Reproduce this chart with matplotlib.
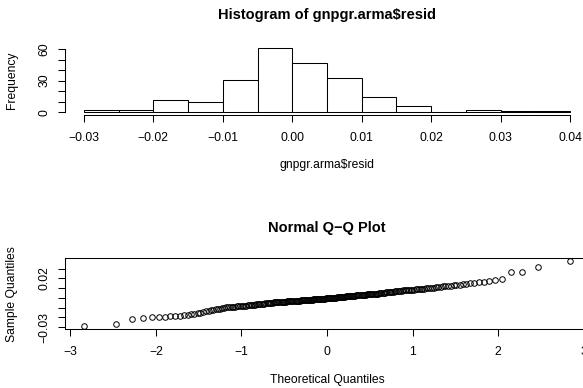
import matplotlib
matplotlib.use('Agg')
import matplotlib.pyplot as plt
from statistics import NormalDist

plt.rcParams['font.family'] = ['Liberation Sans', 'DejaVu Sans']

# ---------------- data ----------------
resid = [
    -0.0293, -0.0271,
    -0.0213, -0.0209,
    -0.0199, -0.0197, -0.0194, -0.0190, -0.0187, -0.0184, -0.0180, -0.0176,
    -0.0171, -0.0166, -0.0160, -0.0153,
    -0.0146, -0.0140, -0.0134, -0.0129, -0.0124, -0.0119, -0.0114, -0.0110,
    -0.0106, -0.0102,
    -0.0098, -0.0096, -0.0095, -0.0093, -0.0092, -0.0090, -0.0088, -0.0087,
    -0.0085, -0.0084, -0.0082, -0.0081, -0.0079, -0.0077, -0.0076, -0.0074,
    -0.0073, -0.0071, -0.0070, -0.0068, -0.0066, -0.0065, -0.0063, -0.0062,
    -0.0060, -0.0059, -0.0057, -0.0055, -0.0054, -0.0052, -0.0051,
    -0.00490, -0.00482, -0.00474, -0.00466, -0.00458, -0.00450, -0.00442,
    -0.00434, -0.00426, -0.00418, -0.00410, -0.00402, -0.00394, -0.00386,
    -0.00378, -0.00370, -0.00362, -0.00354, -0.00346, -0.00338, -0.00330,
    -0.00322, -0.00314, -0.00306, -0.00298, -0.00290, -0.00282, -0.00274,
    -0.00266, -0.00258, -0.00250, -0.00242, -0.00234, -0.00226, -0.00218,
    -0.00210, -0.00202, -0.00194, -0.00186, -0.00178, -0.00170, -0.00162,
    -0.00154, -0.00146, -0.00138, -0.00130, -0.00122, -0.00114, -0.00106,
    -0.00098, -0.00090, -0.00082, -0.00074, -0.00066, -0.00058, -0.00050,
    -0.00042, -0.00034, -0.00026, -0.00018, -0.00010,
    0.0001, 0.0002, 0.0003, 0.0004, 0.0005, 0.0006, 0.0007, 0.0008, 0.0009,
    0.0010, 0.0011, 0.0012, 0.0013, 0.0014, 0.0015, 0.0016, 0.0017, 0.0018,
    0.0019, 0.0020, 0.0021, 0.0022, 0.0023, 0.0024, 0.0025, 0.0026, 0.0027,
    0.0028, 0.0029, 0.0030, 0.0031, 0.0032, 0.0033, 0.0034, 0.0035, 0.0036,
    0.0037, 0.0038, 0.0039, 0.0040, 0.0041, 0.0042, 0.0043, 0.0044, 0.0045,
    0.0047, 0.0049,
    0.0051, 0.0052, 0.0054, 0.0055, 0.0057, 0.0058, 0.0060, 0.0061, 0.0063,
    0.0064, 0.0066, 0.0067, 0.0069, 0.0070, 0.0072, 0.0073, 0.0075, 0.0076,
    0.0078, 0.0079, 0.0081, 0.0082, 0.0084, 0.0085, 0.0087, 0.0088, 0.0090,
    0.0091, 0.0093, 0.0094, 0.0096, 0.0097, 0.0099,
    0.0102, 0.0105, 0.0108, 0.0111, 0.0114, 0.0117, 0.0120, 0.0123, 0.0126,
    0.0129, 0.0132, 0.0135, 0.0139, 0.0143, 0.0147,
    0.0153, 0.0158, 0.0164, 0.0172, 0.0180, 0.0189,
    0.0266, 0.0268,
    0.0312,
    0.0377,
]

breaks = [-0.030, -0.025, -0.020, -0.015, -0.010, -0.005, 0.000,
          0.005, 0.010, 0.015, 0.020, 0.025, 0.030, 0.035, 0.040]
hist_xticks = [-0.03, -0.02, -0.01, 0.00, 0.01, 0.02, 0.03, 0.04]
hist_xticklabels = ['\u22120.03', '\u22120.02', '\u22120.01', '0.00',
                    '0.01', '0.02', '0.03', '0.04']
hist_yticks = [0, 10, 20, 30, 40, 50, 60]
hist_yticklabels = ['0', '', '', '30', '', '', '60']

qq_xticks = [-3, -2, -1, 0, 1, 2, 3]
qq_xticklabels = ['\u22123', '\u22122', '\u22121', '0', '1', '2', '3']
qq_yticks = [-0.03, -0.02, -0.01, 0.00, 0.01, 0.02, 0.03]
qq_yticklabels = ['\u22120.03', '', '', '', '', '0.02', '']

# ---------------- layout helpers ----------------
W, H = 583, 388
fig = plt.figure(figsize=(W / 100, H / 100), dpi=100)


def rect(left, top, right, bottom):
    return [left / W, 1 - bottom / H, (right - left) / W, (bottom - top) / H]


def ftext(x, y, s, **kw):
    fig.text(x / W, 1 - y / H, s, ha='center', va='center', **kw)


FS = 8.7
TFS = 10.5
LW = 0.75
TL = 5.0

# ---------------- histogram ----------------
ax1 = fig.add_axes(rect(64.5, 45.4, 589.5, 114.9))
ax1.hist(resid, bins=breaks, color='white', edgecolor='black', linewidth=LW)
ax1.set_xlim(-0.0328, 0.0428)
ax1.set_ylim(-0.04 * 61, 61 * 1.04)
for s in ['top', 'right']:
    ax1.spines[s].set_visible(False)
ax1.spines['left'].set_bounds(0, 60)
ax1.spines['bottom'].set_bounds(-0.03, 0.04)
for s in ['left', 'bottom']:
    ax1.spines[s].set_linewidth(LW)
ax1.set_xticks(hist_xticks)
ax1.set_xticklabels(hist_xticklabels)
ax1.set_yticks(hist_yticks)
ax1.set_yticklabels(hist_yticklabels, rotation=90, va='center')
ax1.tick_params(axis='x', length=TL, width=LW, labelsize=FS, pad=7.5)
ax1.tick_params(axis='y', length=TL, width=LW, labelsize=FS, pad=5)
ax1.patch.set_visible(False)

ftext(327, 15, 'Histogram of gnpgr.arma$resid', fontsize=TFS, fontweight='bold')
ftext(327, 165, 'gnpgr.arma$resid', fontsize=FS)
ftext(11.7, 80, 'Frequency', fontsize=FS, rotation=90)

# ---------------- normal Q-Q plot ----------------
n = len(resid)
sample = sorted(resid)
nd = NormalDist()
theo = [nd.inv_cdf((i - 0.5) / n) for i in range(1, n + 1)]

ax2 = fig.add_axes(rect(64.5, 258.4, 589.5, 329.0))
ax2.plot(theo, sample, linestyle='none', marker='o', markersize=4.0,
         markerfacecolor='none', markeredgecolor='black', markeredgewidth=0.7)
tr = (max(theo) - min(theo)) * 0.04
ax2.set_xlim(min(theo) - tr, max(theo) + tr)
sr = (max(sample) - min(sample)) * 0.04
ax2.set_ylim(min(sample) - sr, max(sample) + sr)
for s in ax2.spines.values():
    s.set_linewidth(LW)
ax2.set_xticks(qq_xticks)
ax2.set_xticklabels(qq_xticklabels)
ax2.set_yticks(qq_yticks)
ax2.set_yticklabels(qq_yticklabels, rotation=90, va='center')
ax2.tick_params(axis='x', length=TL, width=LW, labelsize=FS, pad=7.5)
ax2.tick_params(axis='y', length=TL, width=LW, labelsize=FS, pad=5)
for lab in ax2.get_xticklabels():
    lab.set_clip_on(False)

ftext(327, 228, 'Normal Q\u2212Q Plot', fontsize=TFS, fontweight='bold')
ftext(327, 380, 'Theoretical Quantiles', fontsize=FS)
ftext(11.7, 293.7, 'Sample Quantiles', fontsize=FS, rotation=90)

fig.savefig('out.png', dpi=100)
